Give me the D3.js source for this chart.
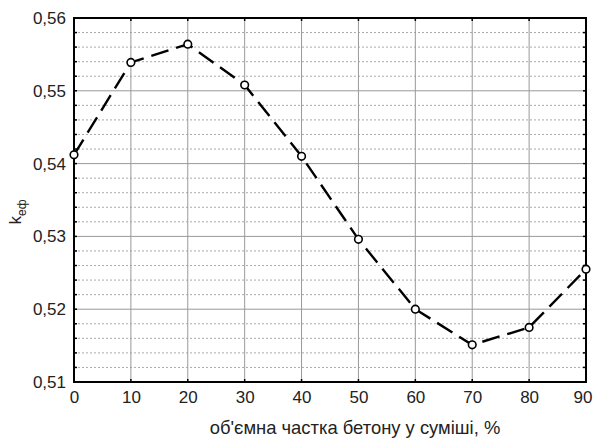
<!DOCTYPE html>
<html>
<head>
<meta charset="utf-8">
<script src="https://cdn.jsdelivr.net/npm/d3@7"></script>
<style>
  body { margin: 0; background: #fff; }
  text { font-family: "Liberation Sans", Arial, sans-serif; }
</style>
</head>
<body>
<div id="chart"></div>
<script>
// 1. Data
const fractions = [0, 10, 20, 30, 40, 50, 60, 70, 80, 90];
const kValues = [0.5412, 0.5539, 0.5564, 0.5508, 0.5410, 0.5296, 0.5200, 0.5151, 0.5175, 0.5255];
const xTicks = [0, 10, 20, 30, 40, 50, 60, 70, 80, 90];
const yTicks = [0.51, 0.52, 0.53, 0.54, 0.55, 0.56];
const yMinorTicks = d3.range(0, 26).map((i) => 0.51 + i * 0.002);

const dataset = fractions.map((f, i) => ({ x: f, y: kValues[i] }));
const xAccessor = (d) => d.x;
const yAccessor = (d) => d.y;

// 2. Dimensions
const dims = {
  width: 593,
  height: 440,
  margin: { top: 18, right: 7, bottom: 58, left: 74 },
};
dims.containerWidth = dims.width - dims.margin.left - dims.margin.right;
dims.containerHeight = dims.height - dims.margin.top - dims.margin.bottom;

// 3. Container
const svg = d3
  .select("#chart")
  .append("svg")
  .attr("width", dims.width)
  .attr("height", dims.height);

const container = svg
  .append("g")
  .attr("transform", `translate(${dims.margin.left},${dims.margin.top})`);

// 4. Scales
const xScale = d3.scaleLinear().domain([0, 90]).range([0, dims.containerWidth]);
const yScale = d3.scaleLinear().domain([0.51, 0.56]).range([dims.containerHeight, 0]);

// 5. Grid
const isMajor = (v) => yTicks.some((t) => Math.abs(t - v) < 1e-9);

container
  .append("g")
  .selectAll("line")
  .data(yMinorTicks.filter((v) => !isMajor(v)))
  .join("line")
  .attr("x1", 0)
  .attr("x2", dims.containerWidth)
  .attr("y1", (d) => yScale(d))
  .attr("y2", (d) => yScale(d))
  .attr("stroke", "#aaa")
  .attr("stroke-width", 1)
  .attr("stroke-dasharray", "2,2");

container
  .append("g")
  .selectAll("line")
  .data(yTicks)
  .join("line")
  .attr("x1", 0)
  .attr("x2", dims.containerWidth)
  .attr("y1", (d) => yScale(d))
  .attr("y2", (d) => yScale(d))
  .attr("stroke", "#999")
  .attr("stroke-width", 1);

container
  .append("g")
  .selectAll("line")
  .data(xTicks)
  .join("line")
  .attr("x1", (d) => xScale(d))
  .attr("x2", (d) => xScale(d))
  .attr("y1", 0)
  .attr("y2", dims.containerHeight)
  .attr("stroke", "#999")
  .attr("stroke-width", 1);

// 6. Axes
const fmt = (d) => d3.format(".2f")(d).replace(".", ",");

const xAxisGroup = container
  .append("g")
  .attr("transform", `translate(0,${dims.containerHeight})`)
  .call(d3.axisBottom(xScale).tickValues(xTicks).tickSize(0).tickPadding(9));
xAxisGroup.selectAll("text").style("font-size", "17px").attr("fill", "#222");
// last label sits against the page edge
xAxisGroup
  .selectAll(".tick")
  .filter((d) => d === 90)
  .select("text")
  .attr("text-anchor", "end")
  .attr("x", 592 - dims.margin.left - xScale(90));

const yAxisGroup = container
  .append("g")
  .call(d3.axisLeft(yScale).tickValues(yTicks).tickSize(0).tickPadding(8).tickFormat(fmt));
yAxisGroup.selectAll("text").style("font-size", "17px").attr("fill", "#222");

[xAxisGroup, yAxisGroup].forEach((g) => g.select(".domain").remove());

// inside ticks
const tickLen = 3;
const ticks = container.append("g").attr("stroke", "#000").attr("stroke-width", 1.5);
yMinorTicks.forEach((v) => {
  ticks.append("line").attr("x1", 0).attr("x2", tickLen).attr("y1", yScale(v)).attr("y2", yScale(v));
  ticks
    .append("line")
    .attr("x1", dims.containerWidth)
    .attr("x2", dims.containerWidth - tickLen)
    .attr("y1", yScale(v))
    .attr("y2", yScale(v));
});
xTicks.forEach((v) => {
  ticks.append("line").attr("x1", xScale(v)).attr("x2", xScale(v)).attr("y1", 0).attr("y2", tickLen);
  ticks
    .append("line")
    .attr("x1", xScale(v))
    .attr("x2", xScale(v))
    .attr("y1", dims.containerHeight)
    .attr("y2", dims.containerHeight - tickLen);
});

// frame
container
  .append("rect")
  .attr("width", dims.containerWidth)
  .attr("height", dims.containerHeight)
  .attr("fill", "none")
  .attr("stroke", "#000")
  .attr("stroke-width", 2);

// 7. Draw
const lineGenerator = d3
  .line()
  .x((d) => xScale(xAccessor(d)))
  .y((d) => yScale(yAccessor(d)));

container
  .append("path")
  .datum(dataset)
  .attr("d", lineGenerator)
  .attr("fill", "none")
  .attr("stroke", "#000")
  .attr("stroke-width", 2.4)
  .attr("stroke-dasharray", "18,8");

container
  .append("g")
  .selectAll("circle")
  .data(dataset)
  .join("circle")
  .attr("cx", (d) => xScale(xAccessor(d)))
  .attr("cy", (d) => yScale(yAccessor(d)))
  .attr("r", 3.8)
  .attr("fill", "#fff")
  .attr("stroke", "#000")
  .attr("stroke-width", 1.6);

// 8. Labels
svg
  .append("text")
  .attr("x", 355)
  .attr("y", 434)
  .attr("text-anchor", "middle")
  .style("font-size", "18.4px")
  .attr("fill", "#222")
  .text("об'ємна частка бетону у суміші, %");

const yLabel = svg
  .append("text")
  .attr("transform", "translate(21,212) rotate(-90)")
  .attr("text-anchor", "middle")
  .style("font-size", "17px")
  .attr("fill", "#222");
yLabel.append("tspan").text("k");
yLabel.append("tspan").attr("dy", 5).style("font-size", "12px").text("еф");
</script>
</body>
</html>
